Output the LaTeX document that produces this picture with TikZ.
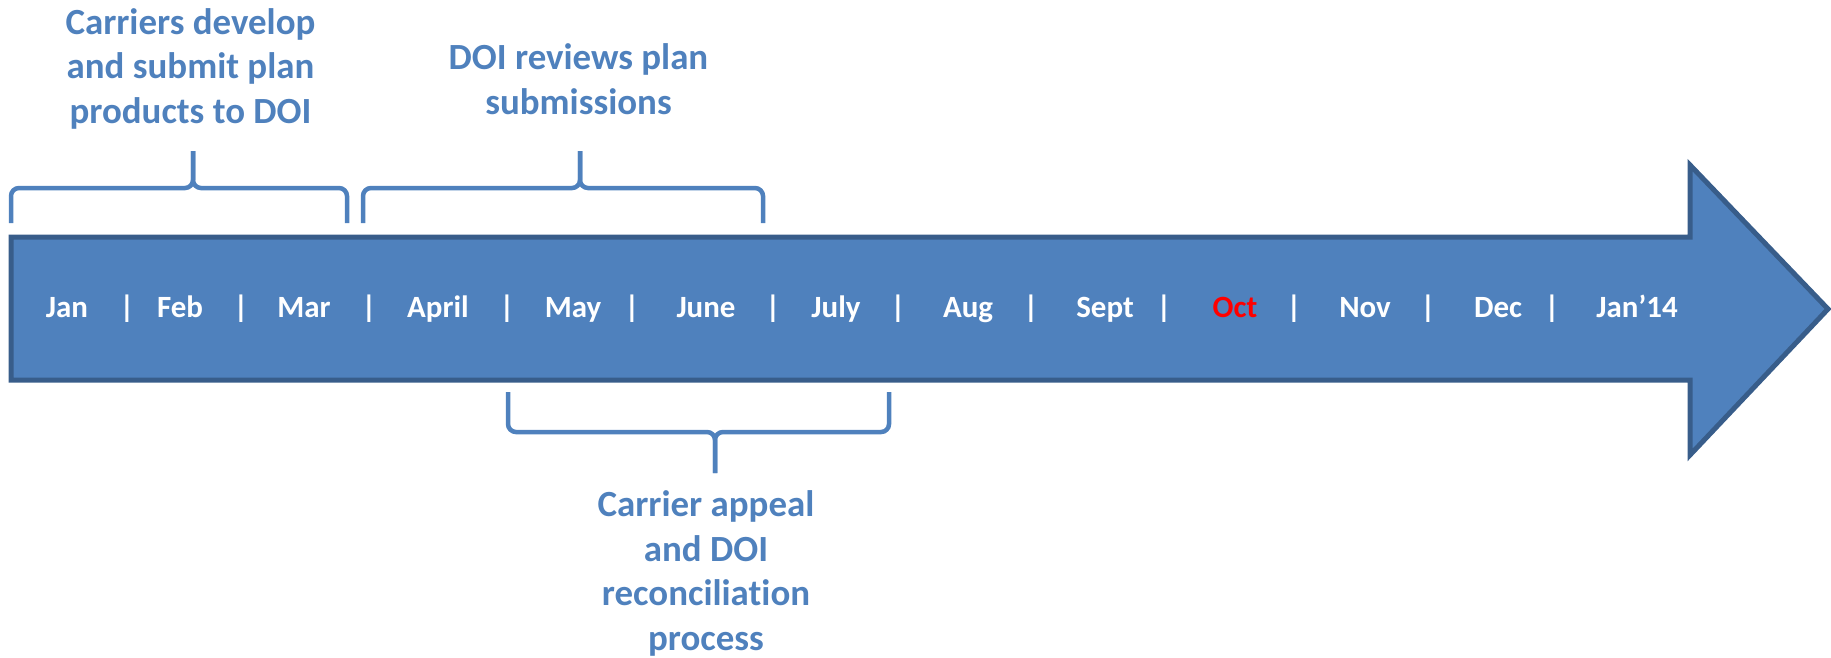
\documentclass[tikz,border=0pt]{standalone}
\usepackage{fontspec}
\setmainfont{Carlito}[Ligatures=NoCommon]

\definecolor{bluFreccia}{HTML}{4F81BD}
\definecolor{bluBordo}{HTML}{385D8A}
\definecolor{rossoMese}{HTML}{FF0000}

% Graffa squadrata: estremi, linea e punta centrale (#1 sx, #2 dx, #3 punta, #4 estremi, #5 linea, #6 punta).
\newcommand{\graffa}[6]{%
	\draw[graffa] (#1,#4) |- (#3,#5) -- (#3,#6);
	\draw[graffa] (#2,#4) |- (#3,#5) -- (#3,#6);
}

\begin{document}
\begin{tikzpicture}[x=1cm,y=1cm,
  freccia/.style={fill=bluFreccia,draw=bluBordo,line width=0.05cm,line join=miter},
  graffa/.style={draw=bluFreccia,line width=0.045cm,rounded corners=0.08cm},
  mese/.style={font=\bfseries\fontsize{8.8}{10.5}\selectfont,anchor=base,inner sep=0pt},
  didascalia/.style={font=\bfseries\fontsize{10.5}{12.66}\selectfont,text=bluFreccia,
    align=center,anchor=base,inner sep=0pt}]
  \useasboundingbox (0,0) rectangle (18.31,6.57);
  % Freccia del calendario, dal gennaio al gennaio successivo.
  \draw[freccia] (0.11,2.77) -- (0.11,4.20) -- (16.90,4.20) -- (16.90,4.92)
    -- (18.28,3.48) -- (16.90,2.02) -- (16.90,2.77) -- cycle;
  % Mesi in bianco, ottobre in rosso.
  \foreach \x/\nome/\colore [count=\i] in {0.67/Jan/white,1.80/Feb/white,3.04/Mar/white,
      4.38/April/white,5.73/May/white,7.06/June/white,8.36/July/white,9.68/Aug/white,
      11.05/Sept/white,12.35/Oct/rossoMese,13.65/Nov/white,14.98/Dec/white,16.37/Jan’14/white}{
    \node[mese,text=\colore] (m\i) at (\x,3.40) {\nome};
  }
  \foreach \x [count=\i] in {1.27,2.41,3.69,5.07,6.32,7.73,8.98,10.31,11.64,12.94,14.28,15.52}{
    \node[mese,text=white] (s\i) at (\x,3.40) {|};
  }
  % Graffe sopra e sotto la freccia, con le fasi (base = ultima riga).
  \graffa{0.11}{3.47}{1.93}{4.34}{4.69}{5.06}
  \graffa{3.63}{7.63}{5.80}{4.34}{4.69}{5.06}
  \graffa{5.08}{8.89}{7.15}{2.65}{2.25}{1.84}
  \node[didascalia] (sviluppo) at (1.905,5.34)
    {Carriers develop\\and submit plan\\products to DOI};
  \node[didascalia] (revisione) at (5.785,5.43)
    {DOI reviews plan\\submissions};
  \node[didascalia] (ricorso) at (7.06,0.07)
    {Carrier appeal\\and DOI\\reconciliation\\process};
\end{tikzpicture}
\end{document}
